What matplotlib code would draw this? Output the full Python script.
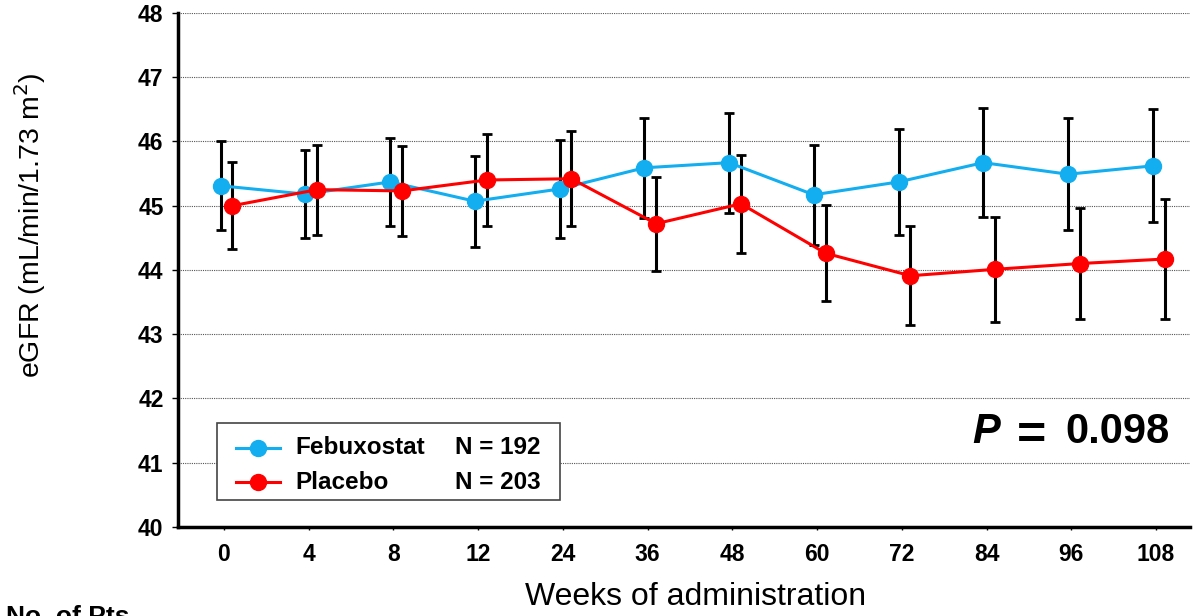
import matplotlib.pyplot as plt
from matplotlib.lines import Line2D
from matplotlib.patches import Rectangle

plt.rcParams['font.family'] = ['Liberation Sans', 'DejaVu Sans']

# data
weeks = ["0", "4", "8", "12", "24", "36", "48", "60", "72", "84", "96", "108"]
feb_mean = [45.31, 45.18, 45.37, 45.07, 45.26, 45.59, 45.67, 45.17, 45.37, 45.67, 45.49, 45.62]
feb_err = [0.69, 0.68, 0.69, 0.71, 0.76, 0.78, 0.78, 0.78, 0.83, 0.85, 0.87, 0.88]
pla_mean = [45.00, 45.25, 45.23, 45.40, 45.42, 44.72, 45.03, 44.26, 43.91, 44.01, 44.10, 44.17]
pla_err = [0.68, 0.70, 0.70, 0.72, 0.74, 0.73, 0.76, 0.75, 0.77, 0.82, 0.87, 0.93]
n_feb = 192
n_pla = 203
p_value = "0.098"

blue = "#12AEEF"
red = "#FF0000"

fig = plt.figure(figsize=(11.96, 6.16), dpi=100)
ax = fig.add_axes([0.149, 0.1445, 0.846, 0.8345])

idx = list(range(len(weeks)))
x_feb = [i - 0.04 for i in idx]
x_pla = [i + 0.10 for i in idx]

ax.errorbar(x_feb, feb_mean, yerr=feb_err, fmt='none', ecolor='black', elinewidth=2.2, capsize=3.5, capthick=2, zorder=2)
ax.errorbar(x_pla, pla_mean, yerr=pla_err, fmt='none', ecolor='black', elinewidth=2.2, capsize=3.5, capthick=2, zorder=2)
ax.plot(x_feb, feb_mean, '-o', color=blue, lw=2.2, ms=11.5, zorder=3)
ax.plot(x_pla, pla_mean, '-o', color=red, lw=2.2, ms=11.5, zorder=4)

ax.set_ylim(40, 48)
ax.set_xlim(-0.54, 11.4)
ax.set_yticks(range(40, 49))
ax.set_xticks(idx)
ax.set_xticklabels(weeks)
for lab in ax.get_xticklabels() + ax.get_yticklabels():
    lab.set_fontweight('bold')
    lab.set_fontsize(16.5)
ax.tick_params(axis='x', length=2.5, width=1, pad=9)
ax.tick_params(axis='y', length=4.5, width=1, pad=6)

ax.grid(axis='y', linestyle=(0, (1, 1)), color='#555555', lw=0.8)
ax.set_axisbelow(True)
for s in ['top', 'right']:
    ax.spines[s].set_visible(False)
ax.spines['left'].set_linewidth(2.5)
ax.spines['bottom'].set_linewidth(2.5)

ax.set_ylabel("eGFR (mL/min/1.73 m$^2$)", fontsize=20.5)
ax.yaxis.set_label_coords(-0.129, 0.587)
ax.set_xlabel("Weeks of administration", fontsize=23)
ax.xaxis.set_label_coords(0.511, -0.107)

# legend box drawn by hand
ax.add_patch(Rectangle((0.0385, 0.0525), 0.339, 0.15, transform=ax.transAxes,
                       fill=True, facecolor='white', edgecolor='#444444', lw=1.2, zorder=5))
for yy, col, name, n in [(0.1537, blue, "Febuxostat", n_feb), (0.0875, red, "Placebo", n_pla)]:
    ax.add_line(Line2D([0.0573, 0.1008], [yy, yy], transform=ax.transAxes, color=col, lw=2.2, zorder=6))
    ax.add_line(Line2D([0.0791], [yy], transform=ax.transAxes, color=col, marker='o', ms=11.5, zorder=7))
    ax.text(0.1156, yy, name, transform=ax.transAxes, fontsize=17.5, fontweight='bold', va='center', zorder=7)
    ax.text(0.2737, yy, "N = %d" % n, transform=ax.transAxes, fontsize=17.5, fontweight='bold', va='center', zorder=7)

# P value
ax.text(0.812, 0.185, "P", transform=ax.transAxes, fontsize=30, fontweight='bold', style='italic',
        ha='right', va='center')
ax.text(0.843, 0.176, "=", transform=ax.transAxes, fontsize=36, fontweight='bold',
        ha='center', va='center')
ax.text(0.980, 0.185, p_value, transform=ax.transAxes, fontsize=30, fontweight='bold',
        ha='right', va='center')

fig.text(0.005, 0.018, "No. of Pts", fontsize=19, fontweight='bold', va='top')

fig.savefig("out.png", dpi=100)
